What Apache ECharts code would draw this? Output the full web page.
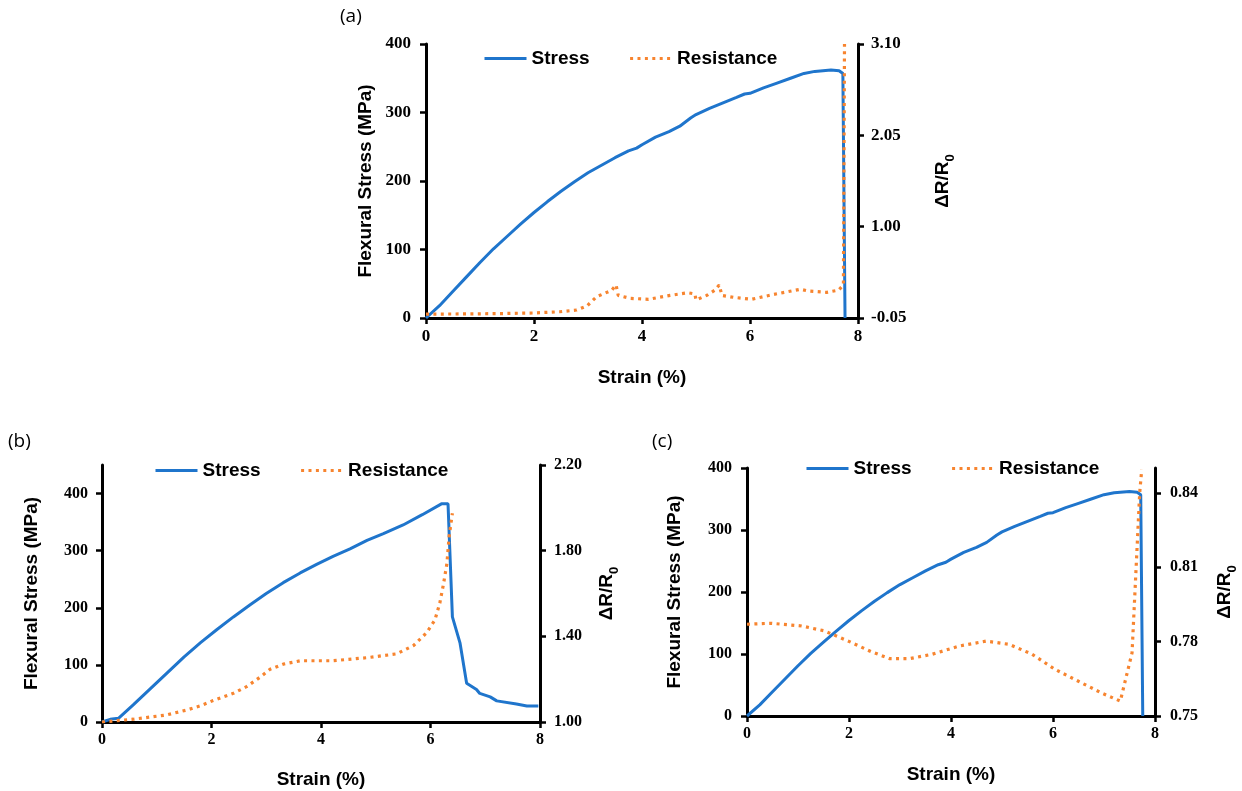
<!DOCTYPE html>
<html>
<head>
<meta charset="utf-8">
<script src="https://cdn.jsdelivr.net/npm/echarts@6/dist/echarts.min.js"></script>
<style>
  html, body { margin: 0; padding: 0; background: #fff; }
  #chart { width: 1242px; height: 791px; }
</style>
</head>
<body>
<div id="chart"></div>
<script>
// (a) 和 (c) 的应力曲线相同
var strainStress = [0, 0.25, 0.5, 0.75, 1.0, 1.25, 1.5, 1.75, 2.0, 2.25, 2.5, 2.75, 3.0, 3.25, 3.5, 3.75, 3.9, 4.0, 4.25, 4.5, 4.7, 4.9, 5.0, 5.25, 5.5, 5.75, 5.9, 6.0, 6.25, 6.5, 6.75, 7.0, 7.2, 7.5, 7.65, 7.72, 7.76];
var stressAC = [0, 18, 39, 60, 81, 101, 119, 137, 154, 170, 185, 199, 212, 223, 234, 244, 248, 253, 264, 272, 280, 292, 297, 306, 314, 322, 327, 328, 336, 343, 350, 357, 360, 362, 361, 357, 0];

// (a) 电阻变化
var strainResA = [0, 0.5, 1.0, 1.5, 2.0, 2.48, 2.79, 2.98, 3.16, 3.28, 3.44, 3.52, 3.56, 3.78, 4.12, 4.52, 4.85, 4.98, 5.0, 5.2, 5.35, 5.43, 5.48, 5.69, 6.03, 6.43, 6.93, 7.08, 7.42, 7.64, 7.73, 7.75];
var resA = [-0.005, -0.004, -0.002, 0.002, 0.008, 0.022, 0.042, 0.088, 0.195, 0.226, 0.27, 0.33, 0.21, 0.176, 0.165, 0.21, 0.24, 0.226, 0.157, 0.21, 0.27, 0.33, 0.21, 0.188, 0.165, 0.22, 0.28, 0.26, 0.245, 0.27, 0.33, 3.10];

// (b)
var strainStressB = [0, 0.15, 0.3, 0.57, 0.88, 1.2, 1.5, 1.8, 2.1, 2.4, 2.7, 3.0, 3.31, 3.62, 3.92, 4.22, 4.53, 4.84, 5.14, 5.50, 5.85, 6.20, 6.32, 6.40, 6.54, 6.66, 6.84, 6.90, 7.09, 7.21, 7.57, 7.76, 7.97];
var stressB = [0, 4.7, 6.4, 30, 58, 87, 114, 139, 162, 184, 205, 225, 244, 261, 276, 290, 303, 318, 330, 345, 363, 382, 382, 184, 138, 68, 57, 50, 44, 37, 31.5, 28, 28];
var strainResB = [0, 0.57, 1.18, 1.55, 1.79, 2.03, 2.40, 2.64, 2.89, 3.07, 3.31, 3.62, 4.22, 4.83, 5.38, 5.69, 5.93, 6.08, 6.17, 6.24, 6.30, 6.34, 6.40];
var resB = [1.0, 1.013, 1.033, 1.056, 1.075, 1.10, 1.134, 1.165, 1.21, 1.246, 1.27, 1.286, 1.286, 1.30, 1.318, 1.357, 1.417, 1.476, 1.555, 1.648, 1.74, 1.866, 1.975];

// (c)
var strainResC = [0, 0.47, 1.07, 1.52, 2.01, 2.43, 2.80, 3.18, 3.63, 4.16, 4.69, 5.14, 5.59, 6.04, 6.49, 6.94, 7.32, 7.55, 7.70, 7.74];
var resC = [0.787, 0.7874, 0.7863, 0.7843, 0.780, 0.776, 0.7731, 0.7731, 0.7749, 0.7782, 0.7802, 0.7789, 0.7749, 0.7688, 0.7641, 0.7594, 0.756, 0.7755, 0.84, 0.8494];

// 刻度
var strainTicks = [0, 2, 4, 6, 8];
var stressTicksA = [0, 100, 200, 300, 400];
var resTicksA = [-0.05, 1.00, 2.05, 3.10];
var stressTicksB = [0, 100, 200, 300, 400];
var resTicksB = [1.00, 1.40, 1.80, 2.20];
var stressTicksC = [0, 100, 200, 300, 400];
var resTicksC = [0.75, 0.78, 0.81, 0.84];

function pairs(xs, ys) {
  var out = [];
  for (var i = 0; i < xs.length; i++) out.push([xs[i], ys[i]]);
  return out;
}

var BLUE = '#1f75cc';
var ORANGE = '#f7842f';
var SANS = '"Liberation Sans", Arial, sans-serif';
var SERIF = '"Liberation Serif", "Times New Roman", serif';

var nameStyle = { fontFamily: SANS, fontWeight: 'bold', fontSize: 19, color: '#000' };
var resName = 'ΔR/R{sub|0}';
var resNameStyle = {
  fontFamily: SANS, fontWeight: 'bold', fontSize: 19, color: '#000',
  rich: { sub: { fontFamily: SANS, fontWeight: 'bold', fontSize: 13, color: '#000', verticalAlign: 'bottom', padding: [0, 0, -5, 0] } }
};

function xAxisOf(grid, gap, fs) {
  return {
    type: 'value', gridIndex: grid, min: 0, max: 8,
    name: 'Strain (%)', nameLocation: 'middle', nameGap: gap, nameTextStyle: nameStyle,
    splitLine: { show: false },
    axisLine: { lineStyle: { color: '#000', width: 3 } },
    axisTick: { inside: false, length: 6, lineStyle: { color: '#000', width: 2.5 }, customValues: strainTicks },
    axisLabel: { customValues: strainTicks, margin: 10, fontFamily: SERIF, fontWeight: 'bold', fontSize: fs, color: '#000' }
  };
}

function yAxisOf(grid, pos, min, max, ticks, name, nstyle, gap, margin, digits, fs) {
  return {
    type: 'value', gridIndex: grid, position: pos, min: min, max: max,
    name: name, nameLocation: 'middle', nameGap: gap, nameTextStyle: nstyle,
    splitLine: { show: false },
    axisLine: { show: true, lineStyle: { color: '#000', width: 3 } },
    axisTick: { show: true, inside: false, length: 6, lineStyle: { color: '#000', width: 2.5 }, customValues: ticks },
    axisLabel: {
      customValues: ticks, margin: margin, fontFamily: SERIF, fontWeight: 'bold', fontSize: fs, color: '#000',
      formatter: function (v) { return v.toFixed(digits); }
    }
  };
}

function legendOf(left, top) {
  return {
    left: left, top: top, padding: 0, itemWidth: 42, itemHeight: 14, itemGap: 39,
    data: ['Stress', 'Resistance'],
    itemStyle: { opacity: 0 },
    lineStyle: { width: 3 },
    textStyle: { fontFamily: SANS, fontWeight: 'bold', fontSize: 19, color: '#000' }
  };
}

function lineSeries(name, xi, yi, data, dotted) {
  return {
    name: name, type: 'line', xAxisIndex: xi, yAxisIndex: yi,
    data: data, symbol: 'none', showSymbol: false, animation: false,
    lineStyle: dotted
      ? { color: ORANGE, width: 3.2, type: [3, 4.4] }
      : { color: BLUE, width: 3 },
    itemStyle: { color: dotted ? ORANGE : BLUE }
  };
}

var chart = echarts.init(document.getElementById('chart'));
chart.setOption({
  animation: false,
  backgroundColor: '#fff',
  grid: [
    { left: 426, top: 44, width: 432, height: 274 },
    { left: 102, top: 465, width: 438, height: 257 },
    { left: 747, top: 468, width: 408, height: 248 }
  ],
  legend: [legendOf(483, 49), legendOf(154, 461), legendOf(805, 459)],
  xAxis: [xAxisOf(0, 50, 17), xAxisOf(1, 48, 16), xAxisOf(2, 49, 16)],
  yAxis: [
    yAxisOf(0, 'left', 0, 400, stressTicksA, 'Flexural Stress (MPa)', nameStyle, 51, 15, 0, 17),
    yAxisOf(0, 'right', -0.05, 3.10, resTicksA, resName, resNameStyle, 75, 13, 2, 17),
    yAxisOf(1, 'left', 0, 450, stressTicksB, 'Flexural Stress (MPa)', nameStyle, 61, 14, 0, 16),
    yAxisOf(1, 'right', 1.00, 2.20, resTicksB, resName, resNameStyle, 57, 14, 2, 16),
    yAxisOf(2, 'left', 0, 400, stressTicksC, 'Flexural Stress (MPa)', nameStyle, 63, 15, 0, 16),
    yAxisOf(2, 'right', 0.75, 0.85, resTicksC, resName, resNameStyle, 60, 15, 2, 16)
  ],
  series: [
    lineSeries('Stress', 0, 0, pairs(strainStress, stressAC), false),
    lineSeries('Resistance', 0, 1, pairs(strainResA, resA), true),
    lineSeries('Stress', 1, 2, pairs(strainStressB, stressB), false),
    lineSeries('Resistance', 1, 3, pairs(strainResB, resB), true),
    lineSeries('Stress', 2, 4, pairs(strainStress, stressAC), false),
    lineSeries('Resistance', 2, 5, pairs(strainResC, resC), true)
  ],
  graphic: [
    { type: 'text', left: 340, top: 7, style: { text: '(a)', font: '19px "Open Sans", "Noto Sans", sans-serif', fill: '#000' } },
    { type: 'text', left: 8, top: 432, style: { text: '(b)', font: '19px "Open Sans", "Noto Sans", sans-serif', fill: '#000' } },
    { type: 'text', left: 652, top: 432, style: { text: '(c)', font: '19px "Open Sans", "Noto Sans", sans-serif', fill: '#000' } }
  ]
});
</script>
</body>
</html>
